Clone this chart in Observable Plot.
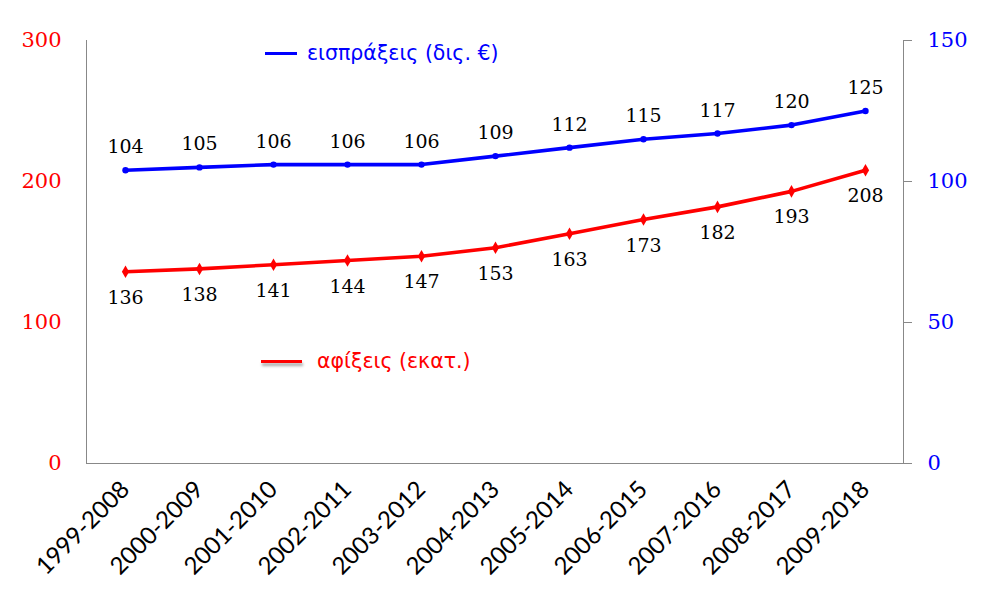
<!DOCTYPE html>
<html>
<head>
<meta charset="utf-8">
<script src="https://cdn.jsdelivr.net/npm/d3@7"></script>
<script src="https://cdn.jsdelivr.net/npm/@observablehq/plot@0.6"></script>
<style>
  html, body { margin: 0; padding: 0; background: #fff; }
  #wrap { position: relative; width: 988px; height: 607px; }
  .leg { position: absolute; font-family: "DejaVu Sans", sans-serif; font-size: 20.5px; white-space: nowrap; display: flex; align-items: center; }
  .sw { display: inline-block; height: 3px; margin-right: 10px; }
</style>
</head>
<body>
<div id="wrap"></div>
<script>
const periods = ["1999-2008","2000-2009","2001-2010","2002-2011","2003-2012","2004-2013","2005-2014","2006-2015","2007-2016","2008-2017","2009-2018"];
const receipts = [104,105,106,106,106,109,112,115,117,120,125]; // εισπράξεις (δις. €), right axis
const arrivals = [136,138,141,144,147,153,163,173,182,193,208]; // αφίξεις (εκατ.), left axis
const leftTicks = [0,100,200,300];
const rightTicks = [0,50,100,150];
const ratio = 2; // left/right axis scale ratio (300 / 150)

const blueRows = periods.map((p,i) => ({p, v: receipts[i], y: receipts[i]*ratio}));
const redRows = periods.map((p,i) => ({p, v: arrivals[i], y: arrivals[i]}));

const serif = "DejaVu Serif, serif";
const axisGray = "#888";

const chart = Plot.plot({
  width: 988,
  height: 607,
  marginLeft: 86,
  marginRight: 85,
  marginTop: 40,
  marginBottom: 144,
  style: {fontFamily: "Lato, sans-serif", background: "#fff"},
  x: {type: "point", domain: periods, padding: 0.5},
  y: {domain: [0, 300]},
  marks: [
    Plot.frame({anchor: "left", stroke: axisGray}),
    Plot.frame({anchor: "right", stroke: axisGray}),
    Plot.ruleY([0], {stroke: axisGray}),
    Plot.axisY({anchor: "left", ticks: leftTicks, tickSize: 0, tickPadding: 25, fill: "#ff0000", fontSize: 21, fontFamily: serif, label: null}),
    Plot.axisY({anchor: "right", ticks: rightTicks.map(d => d*ratio), tickFormat: d => d/ratio, tickSize: 8, tickPadding: 16, stroke: axisGray, fill: "#0000ff", fontSize: 21, fontFamily: serif, textAnchor: "start", label: null}),
    Plot.axisX({tickRotate: -45, tickSize: 0, tickPadding: 22, fontSize: 24, fill: "#000", label: null}),
    Plot.line(blueRows, {x: "p", y: "y", stroke: "#0000ff", strokeWidth: 3.6}),
    Plot.dot(blueRows, {x: "p", y: "y", fill: "#0000ff", r: 3.2, symbol: "circle"}),
    Plot.line(redRows, {x: "p", y: "y", stroke: "#ff0000", strokeWidth: 3.6}),
    Plot.dot(redRows, {x: "p", y: "y", fill: "#ff0000", r: 3.8, symbol: "diamond"}),
    Plot.text(blueRows, {x: "p", y: "y", text: d => String(d.v), dy: -23, fontSize: 19, fontFamily: serif, fill: "#000"}),
    Plot.text(redRows, {x: "p", y: "y", text: d => String(d.v), dy: 26, fontSize: 19, fontFamily: serif, fill: "#000"})
  ]
});

const wrap = document.getElementById("wrap");
wrap.appendChild(chart);

const l1 = document.createElement("div");
l1.className = "leg";
l1.style.left = "265px"; l1.style.top = "41px"; l1.style.color = "#0000ff";
l1.innerHTML = '<span class="sw" style="width:32px;background:#0000ff"></span><span>εισπράξεις (δις. €)</span>';
wrap.appendChild(l1);

const l2 = document.createElement("div");
l2.className = "leg";
l2.style.left = "261px"; l2.style.top = "349px"; l2.style.color = "#ff0000";
l2.innerHTML = '<span class="sw" style="width:41px;background:#ff0000;box-shadow:1px 3px 3px rgba(0,0,0,0.35);margin-right:15px"></span><span>αφίξεις (εκατ.)</span>';
wrap.appendChild(l2);
</script>
</body>
</html>
